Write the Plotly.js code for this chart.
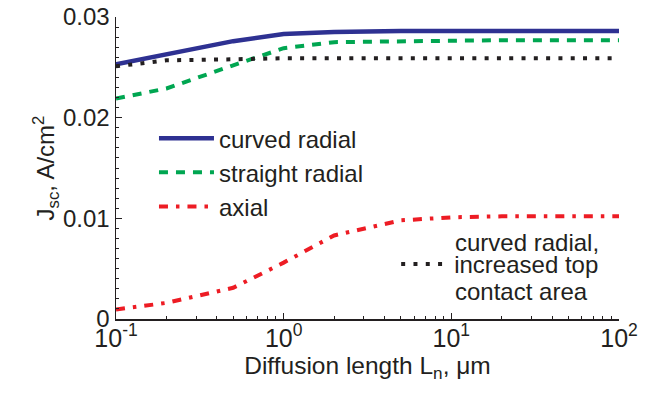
<!DOCTYPE html>
<html>
<head>
<meta charset="utf-8">
<script src="https://cdn.plot.ly/plotly-3.0.1.min.js"></script>
<style>html,body{margin:0;padding:0;background:#fff;}#chart{width:652px;height:395px;}</style>
</head>
<body>
<div id="chart"></div>
<script>
const diffusionLength = [0.1, 0.2, 0.5, 1, 2, 5, 10, 20, 50, 100];
const curvedRadial = [0.0253, 0.0263, 0.0276, 0.0283, 0.0285, 0.0286, 0.0286, 0.0286, 0.0286, 0.0286];
const straightRadial = [0.0219, 0.0229, 0.0252, 0.0269, 0.0275, 0.0276, 0.0277, 0.0277, 0.0277, 0.0277];
const axial = [0.00095, 0.0016, 0.0031, 0.0056, 0.0083, 0.0098, 0.0101, 0.0102, 0.0102, 0.0102];
const curvedRadialTopContact = [0.0251, 0.0257, 0.0258, 0.0259, 0.0259, 0.0259, 0.0259, 0.0259, 0.0259, 0.0259];
const seriesNames = ["curved radial", "straight radial", "axial", "increased top"];
const topContactLabelAbove = "curved radial,";
const topContactLabelBelow = "contact area";
const xTickVals = [0.1, 1, 10, 100];
const xTickText = ["10<sup>-1</sup>", "10<sup>0</sup>", "10<sup>1</sup>", "10<sup>2</sup>"];
const yTickVals = [0, 0.01, 0.02, 0.03];
const yTickText = ["0", "0.01", "0.02", "0.03"];

const FONT = "Liberation Sans, Arial, sans-serif";
const INK = "#231f20";

const traces = [
  {x: diffusionLength, y: curvedRadial, name: seriesNames[0], mode: "lines",
   line: {color: "#2e3192", width: 4.5}, legend: "legend"},
  {x: diffusionLength, y: straightRadial, name: seriesNames[1], mode: "lines",
   line: {color: "#00a651", width: 4, dash: "9px,8px"}, legend: "legend"},
  {x: diffusionLength, y: axial, name: seriesNames[2], mode: "lines",
   line: {color: "#ed1c24", width: 4, dash: "9px,8px,3.5px,8px"}, legend: "legend"},
  {x: diffusionLength, y: curvedRadialTopContact, name: seriesNames[3], mode: "lines",
   line: {color: INK, width: 4, dash: "4px,8.3px"}, legend: "legend2"}
];

const layout = {
  width: 652, height: 395,
  margin: {l: 116, r: 33, t: 17, b: 76},
  paper_bgcolor: "#fff", plot_bgcolor: "#fff",
  font: {family: FONT, size: 24, color: INK},
  showlegend: true,
  xaxis: {
    type: "log", range: [-1, 2], tickvals: xTickVals, ticktext: xTickText,
    showline: true, linecolor: INK, linewidth: 1.5, mirror: false,
    ticks: "inside", ticklen: 6, tickwidth: 1.2, tickcolor: INK,
    minor: {ticks: "inside", ticklen: 3, tickwidth: 1, tickcolor: INK, dtick: "D1"},
    showgrid: false, zeroline: false, ticklabelstandoff: -4,
    tickfont: {size: 25, color: INK},
    title: {text: "Diffusion length L<sub>n</sub>, μm", font: {size: 24.5, color: INK}, standoff: 6}
  },
  yaxis: {
    range: [0, 0.03], tickvals: yTickVals, ticktext: yTickText,
    showline: true, linecolor: INK, linewidth: 1.5, mirror: false,
    ticks: "inside", ticklen: 6, tickwidth: 1.2, tickcolor: INK,
    minor: {ticks: "inside", ticklen: 3, tickwidth: 1, tickcolor: INK, dtick: 0.001},
    showgrid: false, zeroline: false,
    tickfont: {size: 24, color: INK},
    title: {text: "J<sub>sc</sub>, A/cm<sup>2</sup>", font: {size: 24, color: INK}, standoff: 0}
  },
  legend: {
    x: 0.0755, y: 0.672, xanchor: "left", yanchor: "top",
    bgcolor: "rgba(0,0,0,0)", borderwidth: 0, itemwidth: 55,
    font: {family: FONT, size: 24, color: INK}, tracegroupgap: 0
  },
  legend2: {
    x: 0.557, y: 0.255, xanchor: "left", yanchor: "top",
    bgcolor: "rgba(0,0,0,0)", borderwidth: 0, itemwidth: 48,
    font: {family: FONT, size: 24, color: INK}
  },
  annotations: [
    {text: topContactLabelAbove, xref: "paper", yref: "paper", x: 0.670, y: 0.254,
     xanchor: "left", yanchor: "middle", showarrow: false,
     font: {family: FONT, size: 24, color: INK}},
    {text: topContactLabelBelow, xref: "paper", yref: "paper", x: 0.670, y: 0.090,
     xanchor: "left", yanchor: "middle", showarrow: false,
     font: {family: FONT, size: 24, color: INK}}
  ]
};

Plotly.newPlot("chart", traces, layout, {displayModeBar: false, staticPlot: true});
</script>
</body>
</html>
